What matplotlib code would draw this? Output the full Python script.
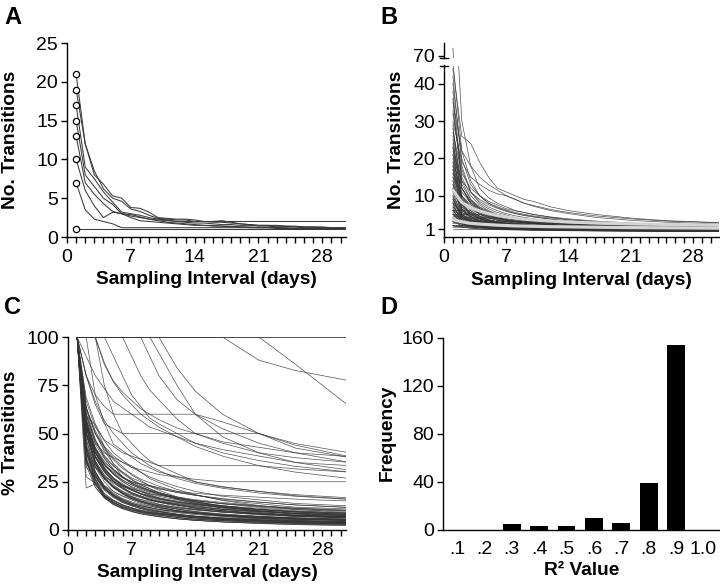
import numpy as np
import matplotlib
matplotlib.use('Agg')
import matplotlib.pyplot as plt

plt.rcParams['font.family'] = ['Liberation Sans', 'DejaVu Sans']

# ---------------- data ----------------
days_a = list(range(1, 32))
a_series = [
    [21, 12, 8, 6.8, 5.3, 5.0, 3.8, 3.7, 3.2, 2.5, 2.4, 2.3, 2.3, 2.2, 2.0, 2.0, 2.1, 1.9, 1.7, 1.6,
     1.5, 1.5, 1.5, 1.4, 1.4, 1.3, 1.3, 1.3, 1.2, 1.2, 1.2],
    [19, 12, 8.5, 6.2, 5.0, 4.6, 3.6, 3.3, 2.8, 2.4, 2.3, 2.2, 2.2, 2.0, 2.0, 1.9, 1.9, 1.8, 1.7, 1.6,
     1.5, 1.5, 1.4, 1.4, 1.3, 1.3, 1.3, 1.2, 1.2, 1.2, 1.1],
    [17, 9, 7.5, 5.8, 4.5, 3.2, 3.0, 2.8, 2.5, 2.3, 2.2, 2.0, 1.9, 1.8, 1.8, 1.7, 1.6, 1.6, 1.5, 1.5,
     1.4, 1.4, 1.3, 1.3, 1.3, 1.2, 1.2, 1.2, 1.1, 1.1, 1.1],
    [15, 8, 6.5, 5.0, 4.2, 3.0, 2.7, 2.5, 2.3, 2.2, 2.1, 2.0, 2.0, 2.0, 2.0, 2.0, 2.0, 2.0, 2.0, 2.0,
     2.0, 2.0, 2.0, 2.0, 2.0, 2.0, 2.0, 2.0, 2.0, 2.0, 2.0],
    [13, 7, 5.5, 4.3, 3.3, 3.0, 2.9, 2.6, 2.3, 2.1, 1.9, 1.8, 1.7, 1.6, 1.5, 1.5, 1.4, 1.4, 1.3, 1.3,
     1.2, 1.2, 1.2, 1.1, 1.1, 1.1, 1.1, 1.0, 1.0, 1.0, 1.0],
    [10, 6, 4.0, 2.5, 3.2, 3.0, 2.5, 2.1, 2.0, 1.9, 1.8, 1.7, 1.6, 1.5, 1.5, 1.4, 1.4, 1.3, 1.3, 1.2,
     1.2, 1.2, 1.1, 1.1, 1.1, 1.1, 1.0, 1.0, 1.0, 1.0, 1.0],
    [7, 3.5, 2.3, 2.0, 1.7, 1.2, 1.2, 1.2, 1.2, 1.2, 1.2, 1.2, 1.2, 1.2, 1.2, 1.2, 1.2, 1.2, 1.2, 1.2,
     1.2, 1.2, 1.2, 1.2, 1.1, 1.1, 1.1, 1.1, 1.1, 1.1, 1.1],
    [1] * 31,
]

days_bc = [1, 2, 3, 4, 5, 6, 7, 8, 9, 10, 12, 14, 17, 21, 25, 31]
b_series = [
    [72, 30, 18, 12, 9.5, 8, 7, 6, 5.5, 5, 4.2, 3.6, 3.0, 2.4, 2.0, 1.6],
    [46, 22, 14, 10, 8, 6.8, 6, 5.2, 4.8, 4.4, 3.7, 3.2, 2.6, 2.1, 1.8, 1.5],
    [44, 26, 24, 19, 15, 12, 11, 10, 9, 8.5, 7, 6, 5, 4, 3.3, 2.8],
    [42, 18, 11, 8, 6.5, 5.5, 4.8, 4.2, 3.8, 3.5, 3.0, 2.6, 2.2, 1.8, 1.5, 1.2],
    [40, 20, 13, 10, 8, 7, 6.2, 5.5, 5, 4.6, 4, 3.5, 3, 2.5, 2.2, 1.9],
    [38, 14, 9, 6.5, 5, 4.2, 3.6, 3.2, 2.9, 2.6, 2.2, 1.9, 1.6, 1.4, 1.2, 1.0],
    [35, 22, 18, 15, 13, 11.5, 10, 9, 8, 7.2, 6, 5.2, 4.2, 3.4, 2.9, 2.4],
    [33, 15, 10, 7.5, 6, 5, 4.4, 3.9, 3.5, 3.2, 2.7, 2.4, 2.0, 1.7, 1.4, 1.2],
    [30, 19, 15, 13, 11.5, 10.5, 10, 9, 8, 7.4, 6.3, 5.5, 4.6, 3.8, 3.2, 2.7],
    [28, 12, 8, 6, 4.8, 4, 3.5, 3.1, 2.8, 2.5, 2.1, 1.8, 1.5, 1.3, 1.1, 0.9],
    [27, 16, 12, 10, 8.5, 7.5, 6.5, 6, 5.5, 5, 4.3, 3.8, 3.2, 2.7, 2.3, 2.0],
    [25, 9, 6, 4.5, 3.6, 3, 2.6, 2.3, 2.1, 1.9, 1.6, 1.4, 1.2, 1.0, 0.9, 0.8],
    [24, 12, 8.5, 6.5, 5.3, 4.5, 4, 3.6, 3.3, 3, 2.6, 2.3, 2.0, 1.7, 1.5, 1.3],
    [22, 14, 11, 9, 7.6, 6.6, 5.8, 5.2, 4.7, 4.3, 3.7, 3.2, 2.7, 2.2, 1.9, 1.6],
    [21, 8, 5, 3.8, 3.0, 2.6, 2.3, 2.0, 1.8, 1.7, 1.5, 1.3, 1.1, 1.0, 0.9, 0.8],
    [20, 10, 7, 5.5, 4.5, 3.8, 3.4, 3, 2.8, 2.6, 2.2, 1.9, 1.6, 1.4, 1.2, 1.1],
    [19, 11, 8, 6.5, 5.5, 4.8, 4.2, 3.8, 3.4, 3.1, 2.7, 2.4, 2.0, 1.7, 1.5, 1.3],
    [18, 6.5, 4, 3, 2.5, 2.1, 1.9, 1.7, 1.6, 1.5, 1.3, 1.2, 1.0, 0.9, 0.8, 0.7],
    [17, 9, 6.5, 5.2, 4.3, 3.7, 3.3, 3, 2.7, 2.5, 2.2, 1.9, 1.7, 1.4, 1.2, 1.1],
    [16, 8, 5.5, 4.3, 3.5, 3, 2.6, 2.3, 2.1, 1.9, 1.6, 1.4, 1.2, 1.0, 0.9, 0.8],
    [15, 9, 7, 5.8, 5, 4.4, 3.9, 3.5, 3.2, 2.9, 2.5, 2.2, 1.9, 1.6, 1.4, 1.2],
    [14, 5, 3.5, 2.6, 2.1, 1.8, 1.6, 1.4, 1.3, 1.2, 1.1, 1.0, 0.9, 0.8, 0.7, 0.6],
    [13, 7, 5, 4, 3.3, 2.9, 2.5, 2.3, 2.1, 1.9, 1.7, 1.5, 1.3, 1.1, 1.0, 0.9],
    [12, 6, 4.3, 3.4, 2.8, 2.4, 2.1, 1.9, 1.8, 1.6, 1.4, 1.3, 1.1, 1.0, 0.9, 0.8],
    [11, 7, 5.5, 4.6, 4, 3.5, 3.2, 2.9, 2.7, 2.5, 2.2, 2.0, 1.7, 1.5, 1.3, 1.2],
    [10, 4, 2.8, 2.2, 1.8, 1.5, 1.3, 1.2, 1.1, 1.0, 0.9, 0.8, 0.7, 0.6, 0.55, 0.5],
    [9, 5, 3.6, 2.9, 2.4, 2.1, 1.9, 1.7, 1.6, 1.5, 1.3, 1.2, 1.05, 0.95, 0.85, 0.75],
    [8, 4.5, 3.3, 2.7, 2.3, 2.0, 1.8, 1.65, 1.5, 1.4, 1.25, 1.1, 1.0, 0.9, 0.8, 0.7],
    [7, 3.5, 2.5, 2.0, 1.7, 1.5, 1.3, 1.2, 1.1, 1.05, 0.95, 0.85, 0.75, 0.68, 0.6, 0.55],
    [6, 3.2, 2.3, 1.9, 1.6, 1.4, 1.3, 1.2, 1.1, 1.0, 0.9, 0.8, 0.72, 0.64, 0.58, 0.52],
    [36, 12, 8, 6, 4.8, 4.1, 3.5, 3.1, 2.8, 2.5, 2.1, 1.8, 1.5, 1.25, 1.05, 0.9],
    [32, 17, 11, 8.5, 7, 6, 5.2, 4.6, 4.2, 3.8, 3.2, 2.8, 2.3, 1.9, 1.6, 1.4],
    [29, 8, 7, 5, 4.2, 3.4, 3.0, 2.6, 2.4, 2.2, 1.9, 1.6, 1.4, 1.2, 1.0, 0.9],
    [26, 13, 9, 7, 5.8, 5, 4.4, 3.9, 3.5, 3.2, 2.8, 2.4, 2.0, 1.7, 1.5, 1.3],
    [23, 10, 6.5, 5, 4, 3.4, 3.0, 2.7, 2.4, 2.2, 1.9, 1.6, 1.4, 1.2, 1.0, 0.9],
    [23, 5, 5.5, 4, 3.2, 2.8, 2.4, 2.2, 2.0, 1.8, 1.5, 1.3, 1.1, 0.95, 0.85, 0.75],
    [21, 12, 8.5, 6.8, 5.6, 4.8, 4.3, 3.9, 3.5, 3.2, 2.8, 2.4, 2.1, 1.8, 1.5, 1.3],
    [19, 7.5, 5, 3.9, 3.2, 2.7, 2.4, 2.1, 1.9, 1.8, 1.5, 1.35, 1.15, 1.0, 0.9, 0.8],
    [18, 9.5, 6.8, 5.4, 4.5, 3.9, 3.4, 3.1, 2.8, 2.6, 2.2, 1.9, 1.7, 1.4, 1.25, 1.1],
    [17, 6, 4.5, 3.0, 2.6, 2.2, 1.9, 1.7, 1.55, 1.45, 1.25, 1.1, 0.95, 0.85, 0.75, 0.65],
    [16, 10, 7.5, 6, 5, 4.4, 3.9, 3.5, 3.2, 3.0, 2.6, 2.3, 2.0, 1.7, 1.5, 1.3],
    [15, 6.5, 4.5, 3.4, 2.8, 2.4, 2.1, 1.9, 1.75, 1.6, 1.4, 1.25, 1.1, 0.95, 0.85, 0.75],
    [14, 7.5, 5.3, 4.2, 3.5, 3.0, 2.7, 2.4, 2.2, 2.0, 1.8, 1.6, 1.4, 1.2, 1.05, 0.95],
    [13, 4.5, 3.4, 2.3, 2.0, 1.7, 1.5, 1.35, 1.25, 1.15, 1.0, 0.9, 0.8, 0.7, 0.62, 0.55],
    [12, 6.5, 4.8, 3.8, 3.2, 2.8, 2.5, 2.25, 2.05, 1.9, 1.65, 1.5, 1.3, 1.15, 1.0, 0.9],
    [11, 4.5, 3.2, 2.5, 2.1, 1.8, 1.6, 1.45, 1.35, 1.25, 1.1, 1.0, 0.88, 0.78, 0.7, 0.62],
    [10, 5.5, 4, 3.2, 2.7, 2.4, 2.1, 1.9, 1.75, 1.6, 1.45, 1.3, 1.15, 1.0, 0.9, 0.8],
    [9.5, 3.5, 2.6, 2.0, 1.7, 1.5, 1.3, 1.2, 1.1, 1.0, 0.9, 0.82, 0.72, 0.64, 0.57, 0.5],
    [9, 4.2, 3.0, 2.4, 2.0, 1.75, 1.55, 1.4, 1.3, 1.2, 1.05, 0.95, 0.85, 0.75, 0.68, 0.6],
    [8.5, 4.8, 3.6, 2.9, 2.5, 2.2, 2.0, 1.8, 1.65, 1.55, 1.4, 1.3, 1.15, 1.0, 0.9, 0.82],
    [8, 2.6, 2.2, 1.7, 1.45, 1.25, 1.1, 1.0, 0.92, 0.86, 0.77, 0.7, 0.62, 0.55, 0.5, 0.45],
    [7.5, 3.8, 2.8, 2.3, 1.95, 1.7, 1.55, 1.4, 1.3, 1.22, 1.1, 1.0, 0.9, 0.8, 0.72, 0.65],
    [7, 4, 3, 2.5, 2.15, 1.9, 1.7, 1.55, 1.45, 1.35, 1.2, 1.1, 1.0, 0.88, 0.8, 0.72],
    [6.5, 2.6, 1.9, 1.5, 1.3, 1.15, 1.05, 0.95, 0.88, 0.82, 0.74, 0.67, 0.6, 0.53, 0.48, 0.43],
    [6, 3.3, 2.5, 2.0, 1.75, 1.55, 1.4, 1.3, 1.2, 1.12, 1.0, 0.92, 0.82, 0.73, 0.66, 0.6],
    [5.5, 2.4, 1.8, 1.45, 1.25, 1.1, 1.0, 0.92, 0.85, 0.8, 0.72, 0.66, 0.59, 0.52, 0.47, 0.42],
    [5, 3.0, 2.3, 1.9, 1.65, 1.5, 1.35, 1.25, 1.15, 1.08, 0.97, 0.9, 0.8, 0.72, 0.65, 0.58],
    [4, 2.2, 1.7, 1.4, 1.25, 1.1, 1.0, 0.95, 0.9, 0.85, 0.78, 0.72, 0.65, 0.58, 0.52, 0.47],
    [4, 1.6, 1.3, 1.1, 1.0, 0.9, 0.85, 0.8, 0.75, 0.72, 0.66, 0.6, 0.55, 0.5, 0.45, 0.4],
    # low-count, slowly changing subjects
    [1, 1, 1, 1, 1, 1, 1, 1, 1, 1, 1, 1, 1, 1, 1, 1],
    [2, 2, 2, 2, 2, 2, 2, 2, 2, 2, 2, 2, 2, 2, 2, 2],
    [1.5, 1.5, 1.5, 1.5, 1.5, 1.5, 1.5, 1.5, 1.5, 1.5, 1.5, 1.5, 1.5, 1.32, 1.24, 1.16],
    [2, 2, 2, 2, 2, 2, 2, 2, 2, 2, 2, 2, 2, 2.0, 1.72, 1.28],
    [2.5, 2.5, 2.5, 2.5, 2.5, 2.5, 2.5, 2.5, 2.5, 2.5, 2.1, 1.8, 1.5, 1.25, 1.12, 1.0],
    [3, 3, 3, 3, 3, 3, 3, 3, 3, 2.75, 2.25, 1.8, 1.45, 1.2, 1.05, 0.93],
    [2, 2, 2, 2, 2, 2, 2, 2, 1.8, 1.6, 1.35, 1.2, 1.05, 0.9, 0.8, 0.7],
    [4, 4, 4, 4, 4, 4, 3.6, 3.2, 2.9, 2.7, 2.3, 2.0, 1.8, 1.6, 1.5, 1.4],
    [5, 5, 5, 5, 4.5, 4.0, 3.5, 3.2, 2.9, 2.75, 2.5, 2.25, 2.0, 1.8, 1.65, 1.5],
    [3, 3, 3, 2.6, 2.3, 2.1, 1.95, 1.8, 1.7, 1.6, 1.45, 1.3, 1.15, 1.0, 0.9, 0.8],
    [6, 6, 6, 4.5, 3.6, 3.0, 2.7, 2.4, 2.15, 2.0, 1.75, 1.5, 1.35, 1.2, 1.1, 1.0],
    [4.5, 4.5, 3.15, 2.5, 2.0, 1.85, 1.7, 1.55, 1.45, 1.35, 1.25, 1.12, 1.0, 0.9, 0.8, 0.72],
    [5, 4, 3.5, 3.2, 3, 3, 3, 3, 3, 3, 3, 3, 2.8, 2.5, 2.2, 1.9],
    [2, 1.6, 1.3, 1.1, 1.05, 1.0, 1.0, 1.0, 1.0, 1.0, 1.0, 1.0, 1.0, 1.0, 0.85, 0.75],
    [3.5, 3.5, 3.5, 3.0, 2.7, 2.5, 2.35, 2.2, 2.1, 2.0, 1.85, 1.75, 1.6, 1.5, 1.4, 1.33],
    [3, 2.7, 2.4, 2.2, 2.0, 1.9, 1.8, 1.7, 1.6, 1.55, 1.45, 1.35, 1.25, 1.15, 1.05, 1.0],
    [3, 2, 1.6, 1.4, 1.3, 1.2, 1.15, 1.1, 1.05, 1.0, 1.0, 1.0, 1.0, 1.0, 0.95, 0.9],
    [6, 4.8, 4.0, 3.4, 3.0, 2.7, 2.4, 2.2, 2.0, 1.85, 1.6, 1.45, 1.3, 1.15, 1.05, 0.95],
    [8, 5.5, 4.4, 3.7, 3.2, 2.9, 2.6, 2.4, 2.2, 2.05, 1.8, 1.6, 1.4, 1.25, 1.1, 1.0],
    [4, 2.4, 1.8, 1.6, 1.5, 1.4, 1.3, 1.25, 1.2, 1.15, 1.1, 1.05, 1.0, 1.0, 1.0, 1.0],
    [5, 2.5, 2.0, 1.7, 1.5, 1.35, 1.25, 1.2, 1.15, 1.1, 1.0, 0.95, 0.9, 0.85, 0.8, 0.75],
]
b_mean_hi = [11.5, 8.2, 6.8, 5.9, 5.2, 4.7, 4.3, 4.0, 3.7, 3.5, 3.2, 2.95, 2.7, 2.45, 2.3, 2.1]
b_mean_lo = [3.6, 3.0, 2.6, 2.4, 2.25, 2.1, 2.0, 1.9, 1.85, 1.8, 1.7, 1.65, 1.55, 1.45, 1.4, 1.3]

r2_labels = ['.1', '.2', '.3', '.4', '.5', '.6', '.7', '.8', '.9', '1.0']
r2_freq = [0, 0, 5, 3, 3, 10, 6, 39, 154, 0]

# ---------------- figure ----------------
W, H = 720, 585
fig = plt.figure(figsize=(W / 100, H / 100), dpi=100)

def rect(l, r, t, b):
    return [l / W, 1 - b / H, (r - l) / W, (b - t) / H]

TICK_FS = 14
LAB_FS = 13.8
LINE_C = '#333333'

def style(ax, minor_x=True):
    for s in ['top', 'right']:
        ax.spines[s].set_visible(False)
    for s in ['left', 'bottom']:
        ax.spines[s].set_linewidth(1.0)
    ax.tick_params(which='both', direction='out', length=4.5, width=1.0,
                   labelsize=TICK_FS, pad=2)
    ax.tick_params(axis='x', pad=4)
    if minor_x:
        ax.set_xticks([0, 7, 14, 21, 28])
        ax.set_xticks(range(0, 31), minor=True)

# Panel A
axA = fig.add_axes(rect(67, 346, 43, 237))
for s in a_series:
    axA.plot(days_a, s, color='#3a3a3a', lw=0.75)
    axA.plot(days_a[0], s[0], 'o', ms=4.5, mfc='white', mec='black', mew=0.9, zorder=5)
axA.set_xlim(0, 30.6)
axA.set_ylim(0, 25)
axA.set_yticks([0, 5, 10, 15, 20, 25])
style(axA)

# Panel B (broken axis)
axB = fig.add_axes(rect(444, 719, 65.5, 237.3))
axBu = fig.add_axes(rect(444, 719, 43.3, 58.3))
for ax in (axB, axBu):
    for s in b_series:
        ax.plot(days_bc, s, color=LINE_C, lw=0.5, alpha=0.85)
    ax.plot(days_bc, b_mean_lo, color='#d4d4d4', lw=2.3, solid_capstyle='round')
    ax.plot(days_bc, b_mean_hi, color='#d4d4d4', lw=2.3, solid_capstyle='round')
    ax.set_xlim(0, 30.9)
axB.set_ylim(-1.15, 44.9)
axB.set_yticks([1, 10, 20, 30, 40])
style(axB)
axBu.set_ylim(69.3, 73.3)
axBu.set_yticks([70])
style(axBu)
axBu.spines['bottom'].set_visible(False)
axBu.tick_params(axis='x', which='both', bottom=False, labelbottom=False)
axB.plot([-0.015, 0.015], [1, 1], transform=axB.transAxes, color='black', lw=1.0, clip_on=False)
axBu.plot([-0.015, 0.015], [0, 0], transform=axBu.transAxes, color='black', lw=1.0, clip_on=False)

# Panel C (each subject normalised to its 1-day count)
axC = fig.add_axes(rect(68, 346, 337, 530))
for s in b_series:
    pct = 100 * np.array(s) / s[0]
    axC.plot(days_bc, pct, color=LINE_C, lw=0.5, alpha=0.85)
axC.set_xlim(0, 30.6)
axC.set_ylim(0, 100)
axC.set_yticks([0, 25, 50, 75, 100])
style(axC)

# Panel D
axD = fig.add_axes(rect(443, 720, 338, 530))
xpos = np.arange(1, len(r2_labels) + 1)
axD.bar(xpos, r2_freq, width=0.65, color='black')
axD.set_xlim(0.49, 10.6)
axD.set_ylim(0, 160)
axD.set_yticks([0, 40, 80, 120, 160])
axD.set_xticks(xpos)
axD.set_xticklabels(r2_labels)
style(axD, minor_x=False)
axD.tick_params(axis='x', length=0, pad=8)

# Labels
for ax in (axA, axB, axC):
    ax.set_xlabel('Sampling Interval (days)', fontsize=LAB_FS, fontweight='bold', labelpad=4)
axD.set_xlabel('R² Value', fontsize=LAB_FS, fontweight='bold', labelpad=3)
fig.text(11 / W, 1 - 140 / H, 'No. Transitions', rotation=90, fontsize=LAB_FS,
         fontweight='bold', ha='center', va='center')
fig.text(396 / W, 1 - 140 / H, 'No. Transitions', rotation=90, fontsize=LAB_FS,
         fontweight='bold', ha='center', va='center')
fig.text(11 / W, 1 - 433 / H, '% Transitions', rotation=90, fontsize=LAB_FS,
         fontweight='bold', ha='center', va='center')
fig.text(387 / W, 1 - 433 / H, 'Frequency', rotation=90, fontsize=LAB_FS,
         fontweight='bold', ha='center', va='center')

for lab, x, y in [('A', 4, 18), ('B', 380, 18), ('C', 4, 308), ('D', 380, 308)]:
    fig.text(x / W, 1 - y / H, lab, fontsize=17, fontweight='bold', ha='left', va='center')

fig.savefig('out.png', dpi=100)
